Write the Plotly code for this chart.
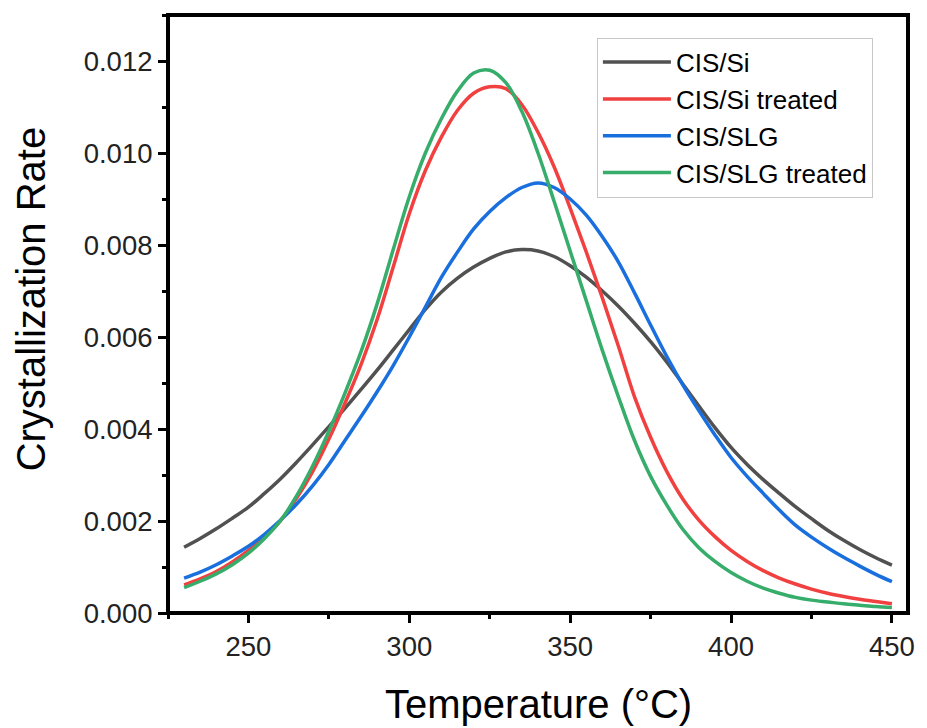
import plotly.graph_objects as go

temperature = [230, 235, 240, 245, 250, 255, 260, 265, 270, 275, 280, 285, 290, 295,
               300, 305, 310, 315, 320, 325, 330, 335, 340, 345, 350, 355, 360, 365,
               370, 375, 380, 385, 390, 395, 400, 405, 410, 415, 420, 425, 430, 435,
               440, 445, 450]

cis_si = [0.00143, 0.00162, 0.00183, 0.00206, 0.00230, 0.00260, 0.00292, 0.00328, 0.00366,
          0.00405, 0.00445, 0.00486, 0.00528, 0.00572, 0.00616, 0.00660, 0.00698, 0.00728,
          0.00752, 0.00771, 0.00785, 0.00790, 0.00787, 0.00775, 0.00755, 0.00730, 0.00700,
          0.00667, 0.00630, 0.00590, 0.00546, 0.00498, 0.00450, 0.00403, 0.00360, 0.00323,
          0.00290, 0.00260, 0.00231, 0.00205, 0.00180, 0.00158, 0.00138, 0.00120, 0.00104]
cis_si_treated = [0.00061, 0.00074, 0.00090, 0.00111, 0.00136, 0.00165, 0.00201, 0.00250,
                  0.00308, 0.00378, 0.00456, 0.00540, 0.00638, 0.00752, 0.00868, 0.00962,
                  0.01035, 0.01093, 0.01130, 0.01144, 0.01140, 0.01105, 0.01045, 0.00970,
                  0.00880, 0.00785, 0.00685, 0.00580, 0.00470, 0.00382, 0.00308, 0.00248,
                  0.00202, 0.00166, 0.00136, 0.00112, 0.00092, 0.00076, 0.00063, 0.00052,
                  0.00043, 0.00036, 0.00030, 0.00025, 0.00020]
cis_slg = [0.00076, 0.00089, 0.00105, 0.00124, 0.00145, 0.00171, 0.00202, 0.00237, 0.00277,
           0.00323, 0.00375, 0.00427, 0.00481, 0.00538, 0.00600, 0.00665, 0.00730, 0.00785,
           0.00835, 0.00873, 0.00903, 0.00925, 0.00935, 0.00925, 0.00900, 0.00865, 0.00818,
           0.00763, 0.00696, 0.00626, 0.00558, 0.00496, 0.00440, 0.00387, 0.00338, 0.00297,
           0.00260, 0.00224, 0.00191, 0.00165, 0.00142, 0.00121, 0.00102, 0.00084, 0.00068]
cis_slg_treated = [0.00055, 0.00069, 0.00085, 0.00105, 0.00130, 0.00162, 0.00201, 0.00255,
                   0.00320, 0.00395, 0.00478, 0.00568, 0.00672, 0.00790, 0.00905, 0.01000,
                   0.01075, 0.01135, 0.01174, 0.01180, 0.01153, 0.01090, 0.01000, 0.00895,
                   0.00787, 0.00679, 0.00571, 0.00470, 0.00375, 0.00297, 0.00235, 0.00182,
                   0.00142, 0.00112, 0.00088, 0.00069, 0.00054, 0.00043, 0.00034, 0.00028,
                   0.00024, 0.00020, 0.00017, 0.00014, 0.00012]

series_names = ["CIS/Si", "CIS/Si treated", "CIS/SLG", "CIS/SLG treated"]
series_values = [cis_si, cis_si_treated, cis_slg, cis_slg_treated]
colors = ["#515151", "#F14040", "#1A6FDF", "#37AD6B"]

x_tick_vals = [250, 300, 350, 400, 450]
y_tick_vals = [0.000, 0.002, 0.004, 0.006, 0.008, 0.010, 0.012]
x_title = "Temperature (°C)"
y_title = "Crystallization Rate"

FONT = "Arial, Liberation Sans, sans-serif"

fig = go.Figure()
for name, vals, col in zip(series_names, series_values, colors):
    fig.add_trace(go.Scatter(
        x=temperature, y=vals, name=name, mode="lines",
        line=dict(color=col, width=3.5, shape="spline", smoothing=1.0),
    ))

axis_common = dict(
    showline=False, mirror=False,
    ticks="outside", ticklen=9, tickwidth=3, tickcolor="black",
    showgrid=False, zeroline=False,
    tickfont=dict(family=FONT, size=27.5, color="#222222"),
)

fig.update_xaxes(
    range=[225, 455], tickvals=x_tick_vals,
    minor=dict(ticks="outside", ticklen=5, tickwidth=3, tickcolor="black", dtick=25, tick0=0, showgrid=False),
    **axis_common,
)
fig.update_yaxes(
    range=[0, 0.013], tickvals=y_tick_vals, tickformat=".3f",
    minor=dict(ticks="outside", ticklen=5, tickwidth=3, tickcolor="black", dtick=0.001, tick0=0, showgrid=False),
    **axis_common,
)

# plot frame
fig.add_shape(type="rect", xref="paper", yref="paper", x0=0, x1=1, y0=0, y1=1,
              line=dict(color="black", width=4), fillcolor="rgba(0,0,0,0)", layer="above")

fig.add_annotation(
    text=x_title, xref="paper", yref="paper", x=0.5007, y=-0.153,
    xanchor="center", yanchor="middle", showarrow=False,
    font=dict(family=FONT, size=40, color="black"),
)
fig.add_annotation(
    text=y_title, xref="paper", yref="paper", x=-0.1847, y=0.525,
    xanchor="center", yanchor="middle", showarrow=False, textangle=-90,
    font=dict(family=FONT, size=40, color="black"),
)

fig.update_layout(
    width=927, height=728,
    margin=dict(l=168, r=12, t=15, b=115),
    paper_bgcolor="white", plot_bgcolor="white",
    font=dict(family=FONT, color="black"),
    legend=dict(
        x=0.5796, y=0.962, xanchor="left", yanchor="top",
        bordercolor="#c8c8c8", borderwidth=1, bgcolor="white",
        font=dict(family=FONT, size=26, color="black"),
        itemwidth=68, tracegroupgap=0,
    ),
    showlegend=True,
)

fig.write_html("out.html")
